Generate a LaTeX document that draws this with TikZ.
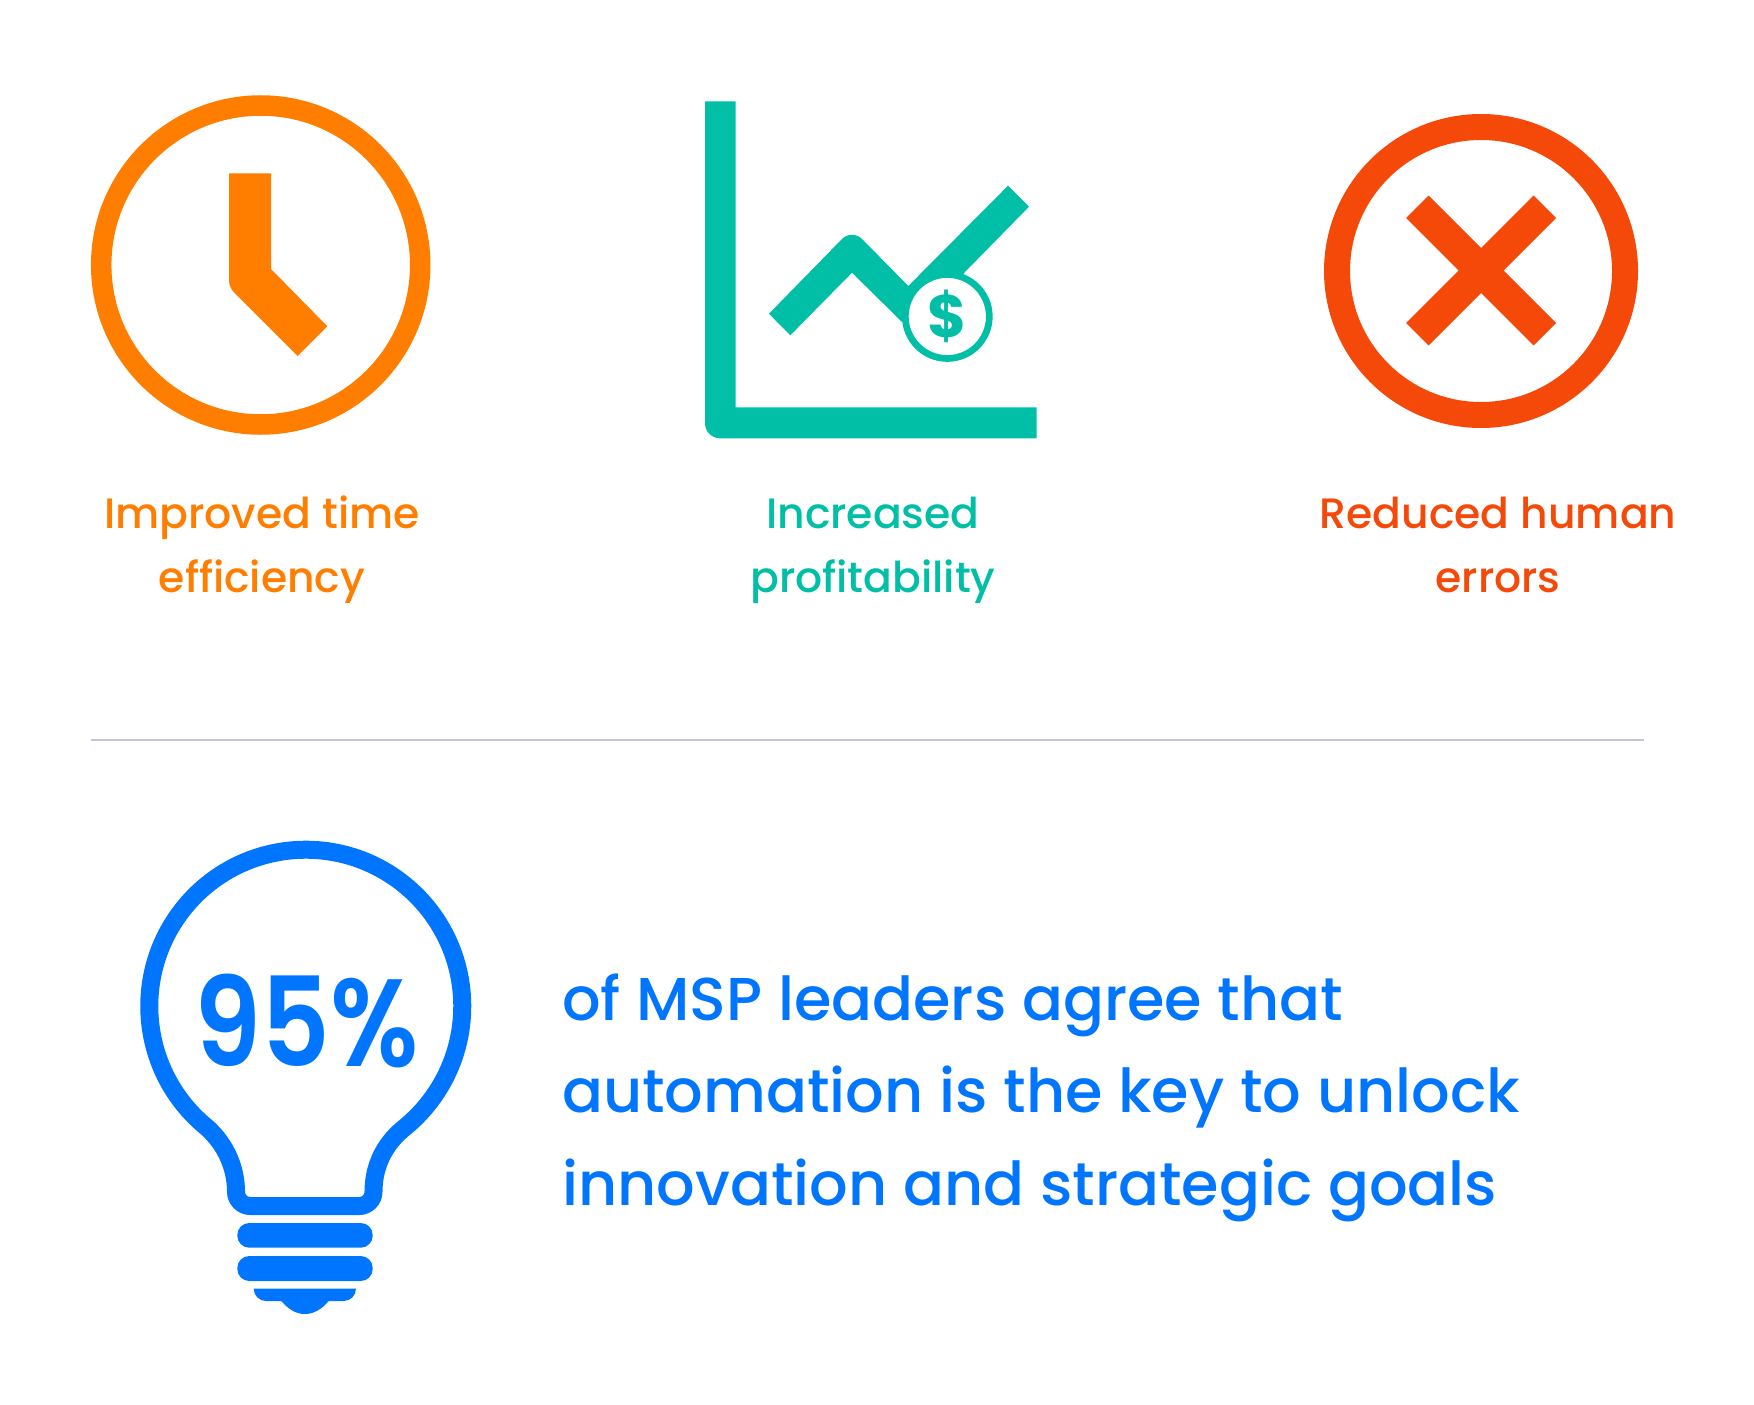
\documentclass[tikz,border=0pt]{standalone}
\usepackage{fontspec}
\setmainfont{Poppins Medium}[BoldFont={Poppins Bold}]
\newfontface\pctface[FakeStretch=0.86]{Poppins SemiBold}
\definecolor{clockorange}{HTML}{FF7E00}
\definecolor{chartteal}{HTML}{00BFA6}
\definecolor{crossred}{HTML}{F5490A}
\definecolor{bulbblue}{HTML}{0075FF}
\definecolor{rulegrey}{HTML}{C2C4DC}
\tikzset{%
	ring/.style     	= {draw, circle, inner sep = 0pt, fill = white},
	caption/.style  	= {align = center, inner sep = 0pt, anchor = base, font = \fontsize{42.5}{64}\selectfont},
	lead/.style     	= {align = left, inner sep = 0pt, anchor = base west, font = \fontsize{60.5}{92.5}\selectfont}
}

\begin{document}
\begin{tikzpicture}[x=1pt, y=-1pt]
	\useasboundingbox (0, 0) rectangle (1754, 1405);

	% Clock
	\node at (260.7, 265) [ring, draw=clockorange, line width=20.5pt, minimum size=319pt] (clock) {};
	\fill[clockorange] (229, 173.4) -- (271, 173.4) -- (271, 269) -- (327.3, 326.3) -- (297.7, 356)
		-- (234, 292.5) .. controls (231, 289) and (229, 285) .. (229, 280) -- cycle;
	\node at (262, 592) [caption, text=clockorange] (clocktext) {Improved time\\efficiency};

	% Chart
	\fill[chartteal] (705, 101.3) -- (735.7, 101.3) -- (735.7, 407.3) -- (1036.7, 407.3) -- (1036.7, 438.3)
		-- (720, 438.3) arc[start angle=270, end angle=180, radius=15pt] -- cycle;
	\fill[chartteal] (769, 313.7) -- (841, 240) .. controls (847, 233) and (857, 233) .. (863, 240)
		-- (908.3, 286) -- (1008, 185.7) -- (1029, 206.7) -- (964.3, 272.7) -- (930, 330) -- (901.7, 321.7)
		-- (852, 272.7) -- (790.3, 335.3) -- cycle;
	\node at (947.3, 316.5) [ring, draw=chartteal, line width=6.7pt, minimum size=84pt, text=chartteal,
		font=\fontsize{60}{60}\selectfont\bfseries] (coin) {\$};
	\node at (873, 592) [caption, text=chartteal] (charttext) {Increased\\profitability};

	% Cross
	\node at (1481, 271) [ring, draw=crossred, line width=26pt, minimum size=288pt] (cross) {};
	\fill[crossred] (cross.center) ++(0, -23) -- ++(52.5, -52.5) -- ++(22.5, 22.5) -- ++(-52.5, 52.5)
		-- ++(52.5, 52.5) -- ++(-22.5, 22.5) -- ++(-52.5, -52.5) -- ++(-52.5, 52.5) -- ++(-22.5, -22.5)
		-- ++(52.5, -52.5) -- ++(-52.5, -52.5) -- ++(22.5, -22.5) -- cycle;
	\node at (1498, 592) [caption, text=crossred] (crosstext) {Reduced human\\errors};

	\coordinate (ruleleft) at (91, 739.5);
	\coordinate (ruleright) at (1644, 739.5);
	\draw[rulegrey, line width=2pt] (ruleleft) -- (ruleright);

	% Bulb
	\draw[bulbblue, line width=18pt] (207.5, 1128) arc[start angle=231.1, end angle=-51.1, radius=156.5pt]
		.. controls (383, 1145) and (373.5, 1168) .. (373.5, 1191.7)
		arc[start angle=0, end angle=-90, radius=14.3pt] -- (250.3, 1206)
		arc[start angle=270, end angle=180, radius=14.3pt]
		.. controls (236, 1168) and (226, 1145) .. cycle;
	\fill[bulbblue, rounded corners=12pt] (237.3, 1223) rectangle (372.7, 1247.7);
	\fill[bulbblue, rounded corners=12pt] (237.3, 1256) rectangle (372.7, 1281);
	\fill[bulbblue] (253.7, 1288.7) -- (356, 1288.7) arc[start angle=0, end angle=-90, radius=12.3pt]
		-- (328.7, 1301) .. controls (322, 1309) and (314, 1314) .. (304.8, 1314)
		.. controls (296, 1314) and (288, 1309) .. (281.3, 1301) -- (266, 1301)
		arc[start angle=270, end angle=180, radius=12.3pt] -- cycle;
	\node at (306.5, 1066) [inner sep=0pt, anchor=base, text=bulbblue, font=\fontsize{124}{124}\pctface] (percent) {95\%};
	\node at (562, 1205) [lead, text=bulbblue] (leadtext) {of MSP leaders agree that\\automation is the key to unlock\\innovation and strategic goals};
\end{tikzpicture}
\end{document}
